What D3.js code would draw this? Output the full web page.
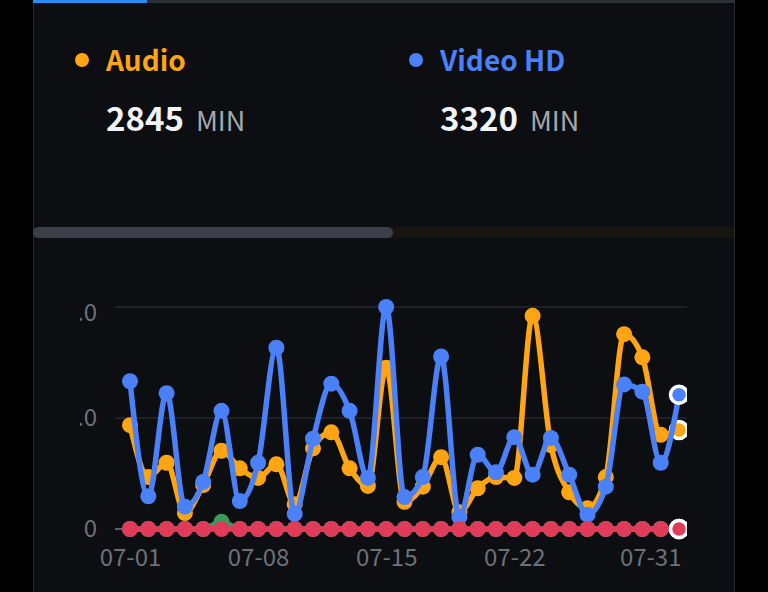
<!DOCTYPE html>
<html>
<head>
<meta charset="utf-8">
<script src="https://cdn.jsdelivr.net/npm/d3@7/dist/d3.min.js"></script>
<style>
  html, body { margin: 0; padding: 0; background: #000; }
  svg { display: block; }
  text { font-family: "Noto Sans CJK SC", "Noto Sans", sans-serif; }
</style>
</head>
<body>
<svg id="chart" width="768" height="592"></svg>
<script>
// ---- data ----
const dates = ["07-01","07-02","07-03","07-04","07-05","07-06","07-07","07-08","07-09","07-10",
  "07-11","07-12","07-13","07-14","07-15","07-16","07-17","07-18","07-19","07-20",
  "07-21","07-22","07-23","07-24","07-25","07-26","07-27","07-28","07-29","07-30","07-31"];
const audio = [130,65,83,20,55,98,76,64,81,31,101,121,76,54,202,34,53,90,21,51,65,64,267,105,46,26,65,244,215,118,124];
const videoHD = [185,41,170,28,59,148,35,83,227,19,113,182,148,64,278,40,65,216,15,93,71,115,68,114,68,18,53,181,172,83,168];
const green = [0,0,0,0,0,9,0,0,0,0,0,0,0,0,0,0,0,0,0,0,0,0,0,0,0,0,0,0,0,0,0];
const red = dates.map(() => 0);
const yTicks = [0, 139, 278];
const xTickLabels = ["07-01","07-08","07-15","07-22","07-31"];
const legendItems = [
  { name: "Audio", total: "2845", unit: "MIN" },
  { name: "Video HD", total: "3320", unit: "MIN" }
];

const colors = { audio: "#ffa412", video: "#4a80f8", green: "#3c9a5f", red: "#e03c5a" };

const svg = d3.select("#chart");

// card
svg.append("rect").attr("x", 0).attr("y", 0).attr("width", 768).attr("height", 592).attr("fill", "#000");
svg.append("rect").attr("x", 33.5).attr("y", 0).attr("width", 701).attr("height", 600)
  .attr("fill", "#0c0e12").attr("stroke", "#262930").attr("stroke-width", 1);
svg.append("rect").attr("x", 33).attr("y", 0).attr("width", 702).attr("height", 3).attr("fill", "#2c2f36");
svg.append("rect").attr("x", 33).attr("y", 0).attr("width", 114).attr("height", 3).attr("fill", "#2d8cf0");

// legend / summary
const legendX = [82, 416];
const legendColors = [colors.audio, colors.video];
legendItems.forEach((it, i) => {
  const g = svg.append("g");
  g.append("circle").attr("cx", legendX[i]).attr("cy", 60).attr("r", 7).attr("fill", legendColors[i]);
  g.append("text").attr("x", legendX[i] + 24).attr("y", 71).attr("font-size", 28).attr("font-weight", 700)
    .attr("fill", legendColors[i]).text(it.name);
  const t = g.append("text").attr("x", legendX[i] + 24).attr("y", 131);
  t.append("tspan").attr("font-size", 33).attr("font-weight", 700).attr("fill", "#f2f3f5").text(it.total);
  t.append("tspan").attr("dx", 12).attr("font-size", 27).attr("font-weight", 400).attr("fill", "#a6a9ae").text(it.unit);
});

// scrollbar
svg.append("rect").attr("x", 34).attr("y", 227).attr("width", 700).attr("height", 11).attr("fill", "#18140f");
svg.append("rect").attr("x", 33).attr("y", 227).attr("width", 360).attr("height", 11).attr("rx", 5.5)
  .attr("fill", "#3b3f48");

// scales
const x = d3.scalePoint().domain(dates).range([130, 679]);
const y = d3.scaleLinear().domain([0, 278]).range([529, 307]);
const gridLeft = 115, gridRight = 687;

// gridlines
svg.append("g").selectAll("line").data(yTicks).join("line")
  .attr("x1", gridLeft).attr("x2", gridRight)
  .attr("y1", d => y(d)).attr("y2", d => y(d))
  .attr("stroke", d => d === 0 ? "#5c6068" : "#24272d")
  .attr("stroke-width", d => d === 0 ? 2 : 1.5);

// y axis labels (clipped on left)
const yg = svg.append("g").attr("transform", "translate(97,0)");
yg.append("clipPath").attr("id", "ylab").append("rect").attr("x", -17).attr("y", 280).attr("width", 40).attr("height", 270);
const yAxis = d3.axisLeft(y).tickValues(yTicks).tickSize(0).tickPadding(0)
  .tickFormat(d => d === 0 ? "0" : d.toFixed(1));
yg.attr("clip-path", "url(#ylab)").call(yAxis);
yg.select(".domain").remove();
yg.selectAll("text").attr("font-size", 24).attr("fill", "#6d7178").attr("font-family", "Noto Sans CJK SC")
  .attr("dy", d => d === 278 ? "0.55em" : "0.33em");

// x axis labels
const xAxis = d3.axisBottom(x).tickValues(xTickLabels).tickSize(0).tickPadding(0);
const xg = svg.append("g").attr("transform", "translate(0,548)").call(xAxis);
xg.select(".domain").remove();
xg.selectAll("text").attr("font-size", 24).attr("fill", "#6d7178").attr("font-family", "Noto Sans CJK SC")
  .attr("dy", "0.75em")
  .attr("text-anchor", d => d === "07-31" ? "end" : "middle")
  .attr("dx", d => d === "07-31" ? 2 : 0);

// series
svg.append("clipPath").attr("id", "plot").append("rect").attr("x", 100).attr("y", 290).attr("width", gridRight - 100).attr("height", 260);
const plot = svg.append("g").attr("clip-path", "url(#plot)");
const line = d3.line().x((d, i) => x(dates[i])).y(d => y(d)).curve(d3.curveMonotoneX);
const series = [
  { data: audio, color: colors.audio },
  { data: videoHD, color: colors.video },
  { data: green, color: colors.green },
  { data: red, color: colors.red }
];
series.forEach(s => {
  const g = plot.append("g");
  g.append("path").datum(s.data).attr("d", line).attr("fill", "none")
    .attr("stroke", s.color).attr("stroke-width", 5.5).attr("stroke-linejoin", "round");
  g.selectAll("circle").data(s.data.slice(0, -1)).join("circle")
    .attr("cx", (d, i) => x(dates[i])).attr("cy", d => y(d)).attr("r", 8).attr("fill", s.color);
  const last = s.data.length - 1;
  g.append("circle").attr("cx", x(dates[last])).attr("cy", y(s.data[last])).attr("r", 8.5)
    .attr("fill", s.color).attr("stroke", "#fff").attr("stroke-width", 3.5);
});
</script>
</body>
</html>
